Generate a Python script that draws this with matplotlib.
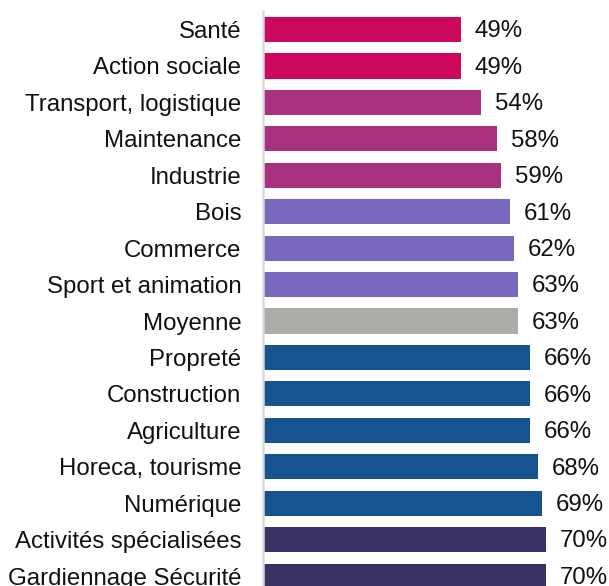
import matplotlib
matplotlib.use("Agg")
import matplotlib.pyplot as plt

categories = [
    "Santé", "Action sociale", "Transport, logistique", "Maintenance",
    "Industrie", "Bois", "Commerce", "Sport et animation", "Moyenne",
    "Propreté", "Construction", "Agriculture", "Horeca, tourisme",
    "Numérique", "Activités spécialisées", "Gardiennage Sécurité",
]
values = [49, 49, 54, 58, 59, 61, 62, 63, 63, 66, 66, 66, 68, 69, 70, 70]
groups = ["rose", "rose", "mauve", "mauve", "mauve", "violet", "violet",
          "violet", "moyenne", "bleu", "bleu", "bleu", "bleu", "bleu",
          "marine", "marine"]

palette = {
    "rose": "#CC095F",
    "mauve": "#A8327F",
    "violet": "#7968BD",
    "moyenne": "#ABACA7",
    "bleu": "#17538E",
    "marine": "#383163",
}

plt.rcParams["font.family"] = ["Liberation Sans", "DejaVu Sans"]

fig = plt.figure(figsize=(6.09, 5.86), dpi=100)
ax = fig.add_axes([0.4319, -0.0142, 1 - 0.4319, 0.9949])

y = list(range(len(categories)))
ax.barh(y, values, height=0.69, color=[palette[g] for g in groups])

for yi, v in zip(y, values):
    ax.text(v + 3.4, yi + 0.05, f"{v}%", va="center", ha="left", fontsize=17.3,
            color="#111111")

ax.set_yticks(y)
ax.set_yticklabels(categories, fontsize=17.3, color="#111111")
ax.set_ylim(len(categories) - 0.5, -0.5)
ax.set_xlim(0, 85.6)
ax.set_xticks([])
ax.tick_params(axis="y", length=0, pad=15.5)
for s in ["top", "right", "bottom"]:
    ax.spines[s].set_visible(False)
ax.spines["left"].set_color("#D9D9D9")
ax.spines["left"].set_linewidth(1.8)

fig.savefig("out.png", dpi=100)
